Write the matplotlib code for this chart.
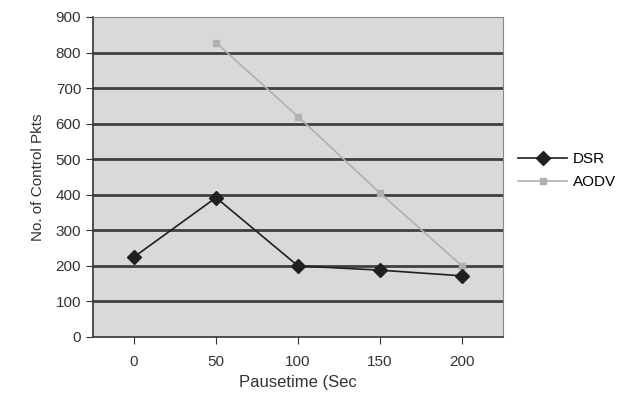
import matplotlib
matplotlib.use("Agg")
import matplotlib.pyplot as plt

categories = ["0", "50", "100", "150", "200"]
dsr = [225, 392, 200, 188, 172]
aodv = [None, 828, 620, 405, 200]
yticks = [0, 100, 200, 300, 400, 500, 600, 700, 800, 900]

plt.rcParams['font.family'] = ['Liberation Sans', 'DejaVu Sans']
fig = plt.figure(figsize=(6.36, 4.01), dpi=100)
ax = fig.add_axes([93/636, 1 - 337/401, 410/636, 320/401])
ax.set_facecolor('#d9d9d9')
x = list(range(len(categories)))
ax_x = [i for i, v in zip(x, aodv) if v is not None]
ax_y = [v for v in aodv if v is not None]
ax.plot(ax_x, ax_y, color='#b0b0b0', marker='s', markersize=5, lw=1.2, label='AODV', zorder=3)
ax.plot(x, dsr, color='#202020', marker='D', markersize=7, lw=1.2, label='DSR', zorder=4)
ax.set_xlim(-0.5, 4.5)
ax.set_ylim(0, 900)
ax.set_yticks(yticks)
ax.set_xticks(x)
ax.set_xticklabels(categories)
for y in yticks[1:-1]:
    ax.axhline(y, color='#404040', lw=2, zorder=1)
for s in ['top', 'right']:
    ax.spines[s].set_color('#888888')
for s in ['left', 'bottom']:
    ax.spines[s].set_color('#333333')
    ax.spines[s].set_linewidth(1.2)
ax.tick_params(axis='both', labelsize=11, colors='#333333', length=5)
ax.tick_params(axis='x', pad=8)
ax.set_ylabel('No. of Control Pkts', fontsize=11, color='#333333', labelpad=8)
ax.set_xlabel('Pausetime (Sec', fontsize=12, color='#333333', labelpad=4)
h, l = ax.get_legend_handles_labels()
fig.legend([h[1], h[0]], [l[1], l[0]], loc='upper left', bbox_to_anchor=(512/636, 1 - 146/401),
           frameon=False, fontsize=11, handlelength=3.2, borderaxespad=0, handletextpad=0.4, labelspacing=0.6)
fig.savefig('out.png', dpi=100)
